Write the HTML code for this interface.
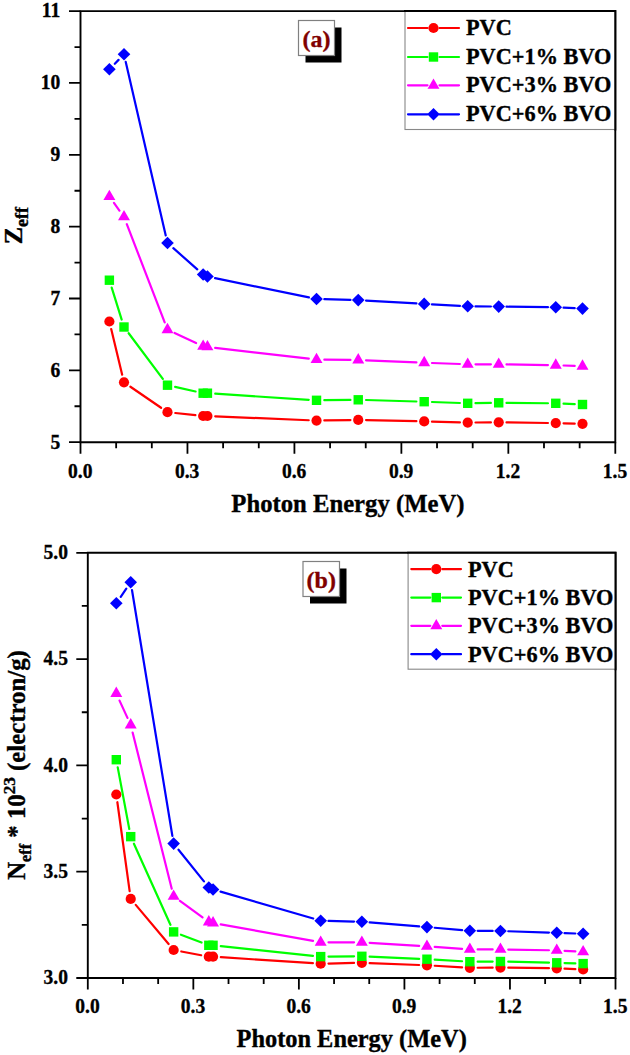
<!DOCTYPE html><html><head><meta charset="utf-8"><style>html,body{margin:0;padding:0;background:#fff;}svg{display:block}text{font-family:"Liberation Serif", serif;font-weight:bold;stroke:currentColor;stroke-width:0.35px;}</style></head><body>
<svg width="630" height="1055" viewBox="0 0 630 1055">
<rect width="630" height="1055" fill="#fff"/>
<path d="M111.20,329.08L122.17,374.72M130.42,386.72L161.07,407.78M175.25,413.03L195.39,415.17M215.22,416.33L308.73,420.27M324.32,420.47L350.44,420.03M366.04,420.08L416.40,421.22M432.00,421.62L459.90,422.38M475.49,422.52L490.91,422.38M506.51,422.41L547.96,422.99M563.56,423.30L574.70,423.60" stroke="#FF0000" stroke-width="2.2" stroke-linecap="round" fill="none"/>
<circle cx="109.38" cy="321.50" r="5.1" fill="#FF0000"/>
<circle cx="124.00" cy="382.30" r="5.1" fill="#FF0000"/>
<circle cx="167.49" cy="412.20" r="5.1" fill="#FF0000"/>
<circle cx="203.15" cy="416.00" r="5.1" fill="#FF0000"/>
<circle cx="207.43" cy="416.00" r="5.1" fill="#FF0000"/>
<circle cx="316.53" cy="420.60" r="5.1" fill="#FF0000"/>
<circle cx="358.24" cy="419.90" r="5.1" fill="#FF0000"/>
<circle cx="424.20" cy="421.40" r="5.1" fill="#FF0000"/>
<circle cx="467.70" cy="422.60" r="5.1" fill="#FF0000"/>
<circle cx="498.71" cy="422.30" r="5.1" fill="#FF0000"/>
<circle cx="555.76" cy="423.10" r="5.1" fill="#FF0000"/>
<circle cx="582.50" cy="423.80" r="5.1" fill="#FF0000"/>
<path d="M111.70,287.65L121.67,319.55M128.67,333.25L162.82,378.95M175.10,386.91L195.54,391.49M215.21,393.71L308.74,399.79M324.32,400.21L350.44,399.89M366.04,400.02L416.40,401.48M431.99,401.99L459.90,403.01M475.49,403.17L490.91,402.93M506.51,402.87L547.96,403.23M563.55,403.65L574.71,404.15" stroke="#00FF00" stroke-width="2.2" stroke-linecap="round" fill="none"/>
<rect x="104.68" y="275.50" width="9.40" height="9.40" fill="#00FF00"/>
<rect x="119.30" y="322.30" width="9.40" height="9.40" fill="#00FF00"/>
<rect x="162.79" y="380.50" width="9.40" height="9.40" fill="#00FF00"/>
<rect x="198.45" y="388.50" width="9.40" height="9.40" fill="#00FF00"/>
<rect x="202.73" y="388.50" width="9.40" height="9.40" fill="#00FF00"/>
<rect x="311.83" y="395.60" width="9.40" height="9.40" fill="#00FF00"/>
<rect x="353.54" y="395.10" width="9.40" height="9.40" fill="#00FF00"/>
<rect x="419.50" y="397.00" width="9.40" height="9.40" fill="#00FF00"/>
<rect x="463.00" y="398.60" width="9.40" height="9.40" fill="#00FF00"/>
<rect x="494.01" y="398.10" width="9.40" height="9.40" fill="#00FF00"/>
<rect x="551.06" y="398.60" width="9.40" height="9.40" fill="#00FF00"/>
<rect x="577.80" y="399.80" width="9.40" height="9.40" fill="#00FF00"/>
<path d="M113.94,202.93L119.44,210.57M126.80,224.18L164.69,322.42M174.57,332.99L196.08,343.01M215.17,347.80L308.78,358.70M324.32,359.67L350.44,359.93M366.03,360.32L416.40,362.38M431.99,362.99L459.90,364.01M475.50,364.30L490.91,364.30M506.51,364.42L547.96,365.08M563.55,365.49L574.70,365.91" stroke="#FF00FF" stroke-width="2.2" stroke-linecap="round" fill="none"/>
<polygon points="109.38,189.70 115.35,200.05 103.40,200.05" fill="#FF00FF"/>
<polygon points="124.00,210.00 129.97,220.35 118.02,220.35" fill="#FF00FF"/>
<polygon points="167.49,322.80 173.47,333.15 161.52,333.15" fill="#FF00FF"/>
<polygon points="203.15,339.40 209.12,349.75 197.17,349.75" fill="#FF00FF"/>
<polygon points="207.43,340.00 213.40,350.35 201.45,350.35" fill="#FF00FF"/>
<polygon points="316.53,352.70 322.50,363.05 310.55,363.05" fill="#FF00FF"/>
<polygon points="358.24,353.10 364.22,363.45 352.26,363.45" fill="#FF00FF"/>
<polygon points="424.20,355.80 430.17,366.15 418.22,366.15" fill="#FF00FF"/>
<polygon points="467.70,357.40 473.67,367.75 461.72,367.75" fill="#FF00FF"/>
<polygon points="498.71,357.40 504.69,367.75 492.74,367.75" fill="#FF00FF"/>
<polygon points="555.76,358.30 561.73,368.65 549.78,368.65" fill="#FF00FF"/>
<polygon points="582.50,359.30 588.47,369.65 576.52,369.65" fill="#FF00FF"/>
<path d="M114.82,63.71L118.55,59.89M125.75,61.90L165.74,235.40M173.34,248.16L197.30,269.34M215.07,278.08L308.89,297.42M324.32,299.21L350.44,299.89M366.03,300.55L416.41,303.45M431.99,304.33L459.91,305.87M475.49,306.38L490.91,306.52M506.51,306.70L547.96,307.20M563.55,307.68L574.71,308.22" stroke="#0000FF" stroke-width="2.2" stroke-linecap="round" fill="none"/>
<polygon points="109.38,63.00 115.68,69.30 109.38,75.60 103.08,69.30" fill="#0000FF"/>
<polygon points="124.00,48.00 130.30,54.30 124.00,60.60 117.70,54.30" fill="#0000FF"/>
<polygon points="167.49,236.70 173.79,243.00 167.49,249.30 161.19,243.00" fill="#0000FF"/>
<polygon points="203.15,268.20 209.45,274.50 203.15,280.80 196.85,274.50" fill="#0000FF"/>
<polygon points="207.43,270.20 213.73,276.50 207.43,282.80 201.13,276.50" fill="#0000FF"/>
<polygon points="316.53,292.70 322.83,299.00 316.53,305.30 310.23,299.00" fill="#0000FF"/>
<polygon points="358.24,293.80 364.54,300.10 358.24,306.40 351.94,300.10" fill="#0000FF"/>
<polygon points="424.20,297.60 430.50,303.90 424.20,310.20 417.90,303.90" fill="#0000FF"/>
<polygon points="467.70,300.00 474.00,306.30 467.70,312.60 461.40,306.30" fill="#0000FF"/>
<polygon points="498.71,300.30 505.01,306.60 498.71,312.90 492.41,306.60" fill="#0000FF"/>
<polygon points="555.76,301.00 562.06,307.30 555.76,313.60 549.46,307.30" fill="#0000FF"/>
<polygon points="582.50,302.30 588.80,308.60 582.50,314.90 576.20,308.60" fill="#0000FF"/>
<path d="M80.5,11.1H615.3V442.2H80.5Z" stroke="#000" stroke-width="1.9" fill="none"/>
<path d="M80.50,442.2v11.5M116.15,442.2v6M151.81,442.2v6M187.46,442.2v11.5M223.11,442.2v6M258.77,442.2v6M294.42,442.2v11.5M330.07,442.2v6M365.73,442.2v6M401.38,442.2v11.5M437.03,442.2v6M472.69,442.2v6M508.34,442.2v11.5M543.99,442.2v6M579.65,442.2v6M615.30,442.2v11.5M80.5,442.20h-11.5M80.5,370.35h-11.5M80.5,298.50h-11.5M80.5,226.65h-11.5M80.5,154.80h-11.5M80.5,82.95h-11.5M80.5,11.10h-11.5M80.5,406.27h-6M80.5,334.43h-6M80.5,262.57h-6M80.5,190.73h-6M80.5,118.88h-6M80.5,47.03h-6" stroke="#000" stroke-width="1.8" fill="none"/>
<text transform="translate(60.3,448.50) scale(0.93,1)" font-size="21" text-anchor="end">5</text>
<text transform="translate(60.3,376.65) scale(0.93,1)" font-size="21" text-anchor="end">6</text>
<text transform="translate(60.3,304.80) scale(0.93,1)" font-size="21" text-anchor="end">7</text>
<text transform="translate(60.3,232.95) scale(0.93,1)" font-size="21" text-anchor="end">8</text>
<text transform="translate(60.3,161.10) scale(0.93,1)" font-size="21" text-anchor="end">9</text>
<text transform="translate(60.3,89.25) scale(0.93,1)" font-size="21" text-anchor="end">10</text>
<text transform="translate(60.3,17.40) scale(0.93,1)" font-size="21" text-anchor="end">11</text>
<text transform="translate(80.20,478) scale(0.93,1)" font-size="21" text-anchor="middle">0.0</text>
<text transform="translate(187.16,478) scale(0.93,1)" font-size="21" text-anchor="middle">0.3</text>
<text transform="translate(294.12,478) scale(0.93,1)" font-size="21" text-anchor="middle">0.6</text>
<text transform="translate(401.08,478) scale(0.93,1)" font-size="21" text-anchor="middle">0.9</text>
<text transform="translate(508.04,478) scale(0.93,1)" font-size="21" text-anchor="middle">1.2</text>
<text transform="translate(615.00,478) scale(0.93,1)" font-size="21" text-anchor="middle">1.5</text>
<text x="347.90" y="512" font-size="24.7" text-anchor="middle">Photon Energy (MeV)</text>
<rect x="405" y="11.1" width="210.29999999999995" height="118.4" fill="#fff" stroke="#888" stroke-width="1.1"/>
<path d="M404,11.1H615.3V130.5" stroke="#000" stroke-width="2" fill="none"/>
<path d="M408,28H427.5M439.5,28H459" stroke="#FF0000" stroke-width="2.2" stroke-linecap="round"/>
<circle cx="433.50" cy="28.00" r="5.1" fill="#FF0000"/>
<text transform="translate(466,35.00) scale(0.97,1)" font-size="23">PVC</text>
<path d="M408,57H427.5M439.5,57H459" stroke="#00FF00" stroke-width="2.2" stroke-linecap="round"/>
<rect x="428.80" y="52.30" width="9.40" height="9.40" fill="#00FF00"/>
<text transform="translate(466,64.00) scale(0.97,1)" font-size="23">PVC+1% BVO</text>
<path d="M408,85.3H427.5M439.5,85.3H459" stroke="#FF00FF" stroke-width="2.2" stroke-linecap="round"/>
<polygon points="433.50,78.40 439.48,88.75 427.52,88.75" fill="#FF00FF"/>
<text transform="translate(466,92.30) scale(0.97,1)" font-size="23">PVC+3% BVO</text>
<path d="M408,114.3H427.5M439.5,114.3H459" stroke="#0000FF" stroke-width="2.2" stroke-linecap="round"/>
<polygon points="433.50,108.00 439.80,114.30 433.50,120.60 427.20,114.30" fill="#0000FF"/>
<text transform="translate(466,121.30) scale(0.97,1)" font-size="23">PVC+6% BVO</text>
<rect x="305.5" y="27.5" width="36.0" height="35.0" fill="#000"/>
<rect x="298.5" y="20.5" width="36.0" height="35.0" fill="#fff" stroke="#808080" stroke-width="1.2"/>
<text x="316.50" y="46.50" font-size="24" fill="#800000" style="stroke:#800000" text-anchor="middle">(a)</text>
<path d="M117.36,802.23L129.65,891.17M135.74,904.87L168.62,944.03M181.30,951.46L201.16,955.24M220.82,957.21L312.91,963.19M328.49,963.53L354.05,962.97M369.65,963.10L419.14,965.00M434.72,965.75L462.07,967.35M477.65,967.75L492.66,967.65M508.26,967.70L548.95,968.20M564.54,968.62L575.34,969.08" stroke="#FF0000" stroke-width="2.2" stroke-linecap="round" fill="none"/>
<circle cx="116.30" cy="794.50" r="5.1" fill="#FF0000"/>
<circle cx="130.72" cy="898.90" r="5.1" fill="#FF0000"/>
<circle cx="173.64" cy="950.00" r="5.1" fill="#FF0000"/>
<circle cx="208.82" cy="956.70" r="5.1" fill="#FF0000"/>
<circle cx="213.04" cy="956.70" r="5.1" fill="#FF0000"/>
<circle cx="320.69" cy="963.70" r="5.1" fill="#FF0000"/>
<circle cx="361.85" cy="962.80" r="5.1" fill="#FF0000"/>
<circle cx="426.94" cy="965.30" r="5.1" fill="#FF0000"/>
<circle cx="469.85" cy="967.80" r="5.1" fill="#FF0000"/>
<circle cx="500.46" cy="967.60" r="5.1" fill="#FF0000"/>
<circle cx="556.75" cy="968.30" r="5.1" fill="#FF0000"/>
<circle cx="583.13" cy="969.40" r="5.1" fill="#FF0000"/>
<path d="M117.73,767.37L129.28,828.98M133.92,843.76L170.43,924.79M180.93,934.68L201.53,942.52M220.80,946.11L312.93,955.79M328.49,956.54L354.05,956.36M369.64,956.65L419.14,958.85M434.72,959.65L462.07,961.25M477.65,961.65L492.66,961.55M508.26,961.68L548.95,962.62M564.55,963.04L575.34,963.36" stroke="#00FF00" stroke-width="2.2" stroke-linecap="round" fill="none"/>
<rect x="111.60" y="755.00" width="9.40" height="9.40" fill="#00FF00"/>
<rect x="126.02" y="831.95" width="9.40" height="9.40" fill="#00FF00"/>
<rect x="168.94" y="927.20" width="9.40" height="9.40" fill="#00FF00"/>
<rect x="204.12" y="940.60" width="9.40" height="9.40" fill="#00FF00"/>
<rect x="208.34" y="940.60" width="9.40" height="9.40" fill="#00FF00"/>
<rect x="315.99" y="951.90" width="9.40" height="9.40" fill="#00FF00"/>
<rect x="357.15" y="951.60" width="9.40" height="9.40" fill="#00FF00"/>
<rect x="422.24" y="954.50" width="9.40" height="9.40" fill="#00FF00"/>
<rect x="465.15" y="957.00" width="9.40" height="9.40" fill="#00FF00"/>
<rect x="495.76" y="956.80" width="9.40" height="9.40" fill="#00FF00"/>
<rect x="552.05" y="958.10" width="9.40" height="9.40" fill="#00FF00"/>
<rect x="578.43" y="958.90" width="9.40" height="9.40" fill="#00FF00"/>
<path d="M119.54,700.59L127.47,717.91M132.62,732.57L171.74,888.73M179.94,900.90L202.52,917.40M220.72,924.38L313.01,940.92M328.49,942.30L354.05,942.30M369.64,942.79L419.15,945.91M434.72,946.94L462.07,948.86M477.65,949.40L492.66,949.40M508.26,949.54L548.95,950.26M564.54,950.81L575.35,951.39" stroke="#FF00FF" stroke-width="2.2" stroke-linecap="round" fill="none"/>
<polygon points="116.30,686.60 122.27,696.95 110.32,696.95" fill="#FF00FF"/>
<polygon points="130.72,718.10 136.70,728.45 124.74,728.45" fill="#FF00FF"/>
<polygon points="173.64,889.40 179.61,899.75 167.66,899.75" fill="#FF00FF"/>
<polygon points="208.82,915.10 214.79,925.45 202.84,925.45" fill="#FF00FF"/>
<polygon points="213.04,916.10 219.02,926.45 207.07,926.45" fill="#FF00FF"/>
<polygon points="320.69,935.40 326.67,945.75 314.72,945.75" fill="#FF00FF"/>
<polygon points="361.85,935.40 367.83,945.75 355.88,945.75" fill="#FF00FF"/>
<polygon points="426.94,939.50 432.91,949.85 420.96,949.85" fill="#FF00FF"/>
<polygon points="469.85,942.50 475.83,952.85 463.88,952.85" fill="#FF00FF"/>
<polygon points="500.46,942.50 506.44,952.85 494.49,952.85" fill="#FF00FF"/>
<polygon points="556.75,943.50 562.72,953.85 550.77,953.85" fill="#FF00FF"/>
<polygon points="583.13,944.90 589.11,955.25 577.16,955.25" fill="#FF00FF"/>
<path d="M120.73,596.78L126.29,588.72M131.98,590.00L172.37,835.90M178.52,849.69L203.94,881.41M220.53,891.67L313.20,918.53M328.49,920.91L354.05,921.59M369.63,922.43L419.16,926.47M434.71,927.75L462.08,930.05M477.65,930.78L492.66,930.92M508.26,931.25L548.95,932.55M564.54,933.10L575.34,933.50" stroke="#0000FF" stroke-width="2.2" stroke-linecap="round" fill="none"/>
<polygon points="116.30,596.90 122.60,603.20 116.30,609.50 110.00,603.20" fill="#0000FF"/>
<polygon points="130.72,576.00 137.02,582.30 130.72,588.60 124.42,582.30" fill="#0000FF"/>
<polygon points="173.64,837.30 179.94,843.60 173.64,849.90 167.34,843.60" fill="#0000FF"/>
<polygon points="208.82,881.20 215.12,887.50 208.82,893.80 202.52,887.50" fill="#0000FF"/>
<polygon points="213.04,883.20 219.34,889.50 213.04,895.80 206.74,889.50" fill="#0000FF"/>
<polygon points="320.69,914.40 326.99,920.70 320.69,927.00 314.39,920.70" fill="#0000FF"/>
<polygon points="361.85,915.50 368.15,921.80 361.85,928.10 355.55,921.80" fill="#0000FF"/>
<polygon points="426.94,920.80 433.24,927.10 426.94,933.40 420.64,927.10" fill="#0000FF"/>
<polygon points="469.85,924.40 476.15,930.70 469.85,937.00 463.55,930.70" fill="#0000FF"/>
<polygon points="500.46,924.70 506.76,931.00 500.46,937.30 494.16,931.00" fill="#0000FF"/>
<polygon points="556.75,926.50 563.05,932.80 556.75,939.10 550.45,932.80" fill="#0000FF"/>
<polygon points="583.13,927.50 589.43,933.80 583.13,940.10 576.83,933.80" fill="#0000FF"/>
<path d="M87.8,552.8H615.5V978.0H87.8Z" stroke="#000" stroke-width="1.9" fill="none"/>
<path d="M87.80,978.0v11.5M122.98,978.0v6M158.16,978.0v6M193.34,978.0v11.5M228.52,978.0v6M263.70,978.0v6M298.88,978.0v11.5M334.06,978.0v6M369.24,978.0v6M404.42,978.0v11.5M439.60,978.0v6M474.78,978.0v6M509.96,978.0v11.5M545.14,978.0v6M580.32,978.0v6M615.50,978.0v11.5M87.8,978.00h-11.5M87.8,871.70h-11.5M87.8,765.40h-11.5M87.8,659.10h-11.5M87.8,552.80h-11.5M87.8,924.85h-6M87.8,818.55h-6M87.8,712.25h-6M87.8,605.95h-6" stroke="#000" stroke-width="1.8" fill="none"/>
<text transform="translate(68,984.30) scale(0.93,1)" font-size="21" text-anchor="end">3.0</text>
<text transform="translate(68,878.00) scale(0.93,1)" font-size="21" text-anchor="end">3.5</text>
<text transform="translate(68,771.70) scale(0.93,1)" font-size="21" text-anchor="end">4.0</text>
<text transform="translate(68,665.40) scale(0.93,1)" font-size="21" text-anchor="end">4.5</text>
<text transform="translate(68,559.10) scale(0.93,1)" font-size="21" text-anchor="end">5.0</text>
<text transform="translate(87.50,1013) scale(0.93,1)" font-size="21" text-anchor="middle">0.0</text>
<text transform="translate(193.04,1013) scale(0.93,1)" font-size="21" text-anchor="middle">0.3</text>
<text transform="translate(298.58,1013) scale(0.93,1)" font-size="21" text-anchor="middle">0.6</text>
<text transform="translate(404.12,1013) scale(0.93,1)" font-size="21" text-anchor="middle">0.9</text>
<text transform="translate(509.66,1013) scale(0.93,1)" font-size="21" text-anchor="middle">1.2</text>
<text transform="translate(615.20,1013) scale(0.93,1)" font-size="21" text-anchor="middle">1.5</text>
<text x="351.65" y="1047" font-size="24.4" text-anchor="middle">Photon Energy (MeV)</text>
<rect x="408.1" y="552.8" width="207.39999999999998" height="116.40000000000009" fill="#fff" stroke="#888" stroke-width="1.1"/>
<path d="M407.1,552.8H615.5V670.2" stroke="#000" stroke-width="2" fill="none"/>
<path d="M411.3,569.1H430.3M442.3,569.1H461" stroke="#FF0000" stroke-width="2.2" stroke-linecap="round"/>
<circle cx="436.30" cy="569.10" r="5.1" fill="#FF0000"/>
<text transform="translate(468,576.50) scale(0.97,1)" font-size="23">PVC</text>
<path d="M411.3,597.6H430.3M442.3,597.6H461" stroke="#00FF00" stroke-width="2.2" stroke-linecap="round"/>
<rect x="431.60" y="592.90" width="9.40" height="9.40" fill="#00FF00"/>
<text transform="translate(468,605.00) scale(0.97,1)" font-size="23">PVC+1% BVO</text>
<path d="M411.3,625.8H430.3M442.3,625.8H461" stroke="#FF00FF" stroke-width="2.2" stroke-linecap="round"/>
<polygon points="436.30,618.90 442.28,629.25 430.32,629.25" fill="#FF00FF"/>
<text transform="translate(468,633.20) scale(0.97,1)" font-size="23">PVC+3% BVO</text>
<path d="M411.3,654.2H430.3M442.3,654.2H461" stroke="#0000FF" stroke-width="2.2" stroke-linecap="round"/>
<polygon points="436.30,647.90 442.60,654.20 436.30,660.50 430.00,654.20" fill="#0000FF"/>
<text transform="translate(468,661.60) scale(0.97,1)" font-size="23">PVC+6% BVO</text>
<rect x="310" y="568.5" width="36.5" height="35.0" fill="#000"/>
<rect x="303" y="561.5" width="36.5" height="35.0" fill="#fff" stroke="#808080" stroke-width="1.2"/>
<text x="321.25" y="587.50" font-size="24" fill="#800000" style="stroke:#800000" text-anchor="middle">(b)</text>
<text transform="translate(22,225.6) rotate(-90)" font-size="26" text-anchor="middle">Z<tspan font-size="18" dy="6.4">eff</tspan></text>
<text transform="translate(24.8,765.0) rotate(-90)" font-size="24.8" text-anchor="middle">N<tspan font-size="16.2" dy="6.6">eff</tspan><tspan dy="-6.6"> * 10</tspan><tspan font-size="17.2" dy="-9.8">23</tspan><tspan dy="9.8"> (electron/g)</tspan></text>
</svg></body></html>
